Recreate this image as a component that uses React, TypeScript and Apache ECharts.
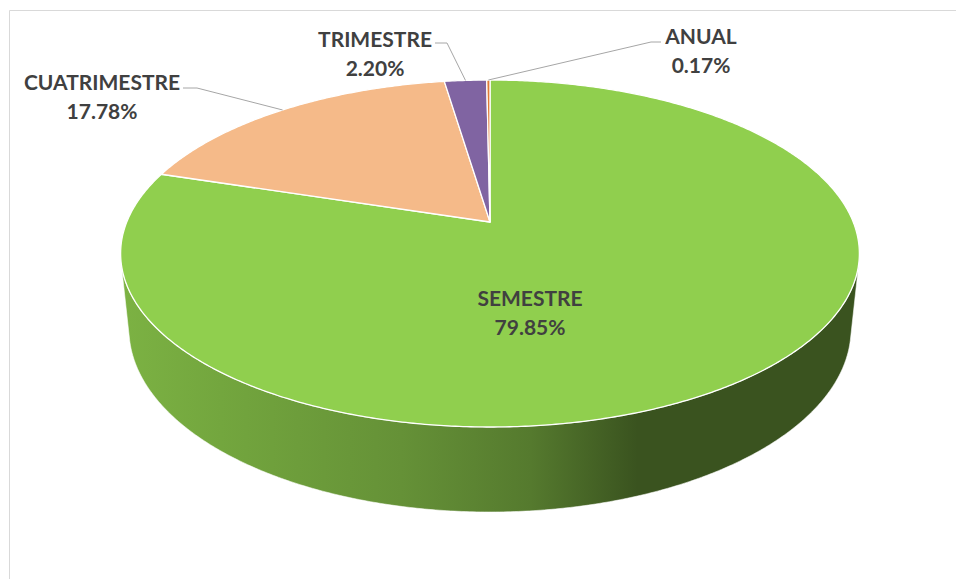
import React, { useEffect, useRef } from "react";
import * as echarts from "echarts";

// ---------- data ----------
const categories = ["SEMESTRE", "CUATRIMESTRE", "TRIMESTRE", "ANUAL"];
const percentages = [79.85, 17.78, 2.2, 0.17];
const sliceColors = ["#90CF4E", "#F5BA89", "#8064A2", "#E07B35"];

// ---------- layout (pixels) ----------
const labelLayout = [
  { x: 530, y: 297, inside: true, start: [0, 0], knee: [0, 0] },
  { x: 102, y: 81, inside: false, start: [183, 88], knee: [197, 88] },
  { x: 375, y: 38, inside: false, start: [435, 43], knee: [447, 43] },
  { x: 701, y: 35, inside: false, start: [661, 42], knee: [651, 42] },
];
const LINE_GAP = 29;
const FONT = "Lato, 'Open Sans', sans-serif";

// perspective camera for the 3D pie
const CX = 490;
const CY = 222;
const FOCAL = 1774;
const DIST = 4.884;
const SIN_T = 0.4619;
const COS_T = 0.887;
const DEPTH = 0.236;

function project(X: number, Y: number, Z: number): number[] {
  const d = DIST - Y * SIN_T - Z * COS_T;
  return [CX + (FOCAL * X) / d, CY - (FOCAL * (Y * COS_T - Z * SIN_T)) / d];
}
function rim(alphaDeg: number, Y: number): number[] {
  const a = (alphaDeg * Math.PI) / 180;
  return project(Math.sin(a), Y, -Math.cos(a));
}
// visible side range (clockwise degrees from 12 o'clock)
const CAM_Z = DIST * COS_T;
const PHI0 = (Math.asin(1 / CAM_Z) * 180) / Math.PI;
const VIS0 = 90 + PHI0;
const VIS1 = 270 - PHI0;

function shade(hex: string, f: number): string {
  const n = parseInt(hex.slice(1), 16);
  const r = Math.round(((n >> 16) & 255) * f);
  const g = Math.round(((n >> 8) & 255) * f);
  const b = Math.round((n & 255) * f);
  return `rgb(${r},${g},${b})`;
}
const sideStops = [
  [0, 0.86],
  [0.135, 0.8],
  [0.38, 0.7],
  [0.555, 0.59],
  [0.7, 0.4],
  [1, 0.4],
];

function sliceRange(api: any, idx: number) {
  let total = 0;
  for (let i = 0; i < percentages.length; i++) total += percentages[i];
  let before = 0;
  for (let i = 0; i < idx; i++) before += percentages[i];
  const v = api.value(1);
  return [(before / total) * 360, ((before + v) / total) * 360];
}

function arcPoints(a0: number, a1: number, Y: number): number[][] {
  const n = Math.max(2, Math.ceil((a1 - a0) / 0.5));
  const pts: number[][] = [];
  for (let k = 0; k <= n; k++) pts.push(rim(a0 + ((a1 - a0) * k) / n, Y));
  return pts;
}

const seriesData = percentages.map((v, i) => ({ name: categories[i], value: [i, v] }));

export default function App() {
  const ref = useRef<HTMLDivElement>(null);
  useEffect(() => {
    if (!ref.current) return;
    const chart = echarts.init(ref.current, undefined, { renderer: "svg" });
    const leftX = rim(VIS1, 0)[0];
    const rightX = rim(VIS0, 0)[0];
    chart.setOption({
      animation: false,
      backgroundColor: "#ffffff",
      graphic: [
        {
          type: "rect",
          silent: true,
          shape: { x: 9.5, y: 10.5, width: 1000, height: 1000 },
          style: { fill: "none", stroke: "#D9D9D9", lineWidth: 1 },
        },
      ],
      series: [
        {
          type: "custom",
          coordinateSystem: "none",
          silent: true,
          z: 1,
          data: seriesData,
          renderItem: (params: any, api: any) => {
            const i = params.dataIndex;
            const [s, e] = sliceRange(api, i);
            const a0 = Math.max(s, VIS0);
            const a1 = Math.min(e, VIS1);
            if (a1 <= a0) return { type: "group", children: [] };
            const top = arcPoints(a0, a1, 0);
            const bot = arcPoints(a0, a1, -DEPTH).reverse();
            const grad = new echarts.graphic.LinearGradient(
              leftX,
              0,
              rightX,
              0,
              sideStops.map(([o, f]) => ({ offset: o, color: shade(sliceColors[i], f) })),
              true
            );
            return {
              type: "polygon",
              shape: { points: top.concat(bot) },
              style: { fill: grad, stroke: "rgba(255,255,255,0.7)", lineWidth: 0.8 },
            };
          },
        },
        {
          type: "custom",
          coordinateSystem: "none",
          silent: true,
          z: 2,
          data: seriesData,
          renderItem: (params: any, api: any) => {
            const i = params.dataIndex;
            const [s, e] = sliceRange(api, i);
            const pts = [project(0, 0, 0)];
            const arc = arcPoints(s, e, 0);
            return {
              type: "polygon",
              shape: { points: pts.concat(arc) },
              style: { fill: sliceColors[i], stroke: "#ffffff", lineWidth: 1.3, lineJoin: "round" },
            };
          },
        },
        {
          type: "custom",
          coordinateSystem: "none",
          silent: true,
          z: 3,
          data: seriesData,
          renderItem: (params: any, api: any) => {
            const i = params.dataIndex;
            const [s, e] = sliceRange(api, i);
            const lay = labelLayout[i];
            const pct = Number(api.value(1)).toFixed(2) + "%";
            const children: any[] = [];
            if (!lay.inside) {
              const p = rim((s + e) / 2, 0);
              children.push({
                type: "polyline",
                shape: { points: [lay.start, lay.knee, p] },
                style: { stroke: "#A6A6A6", lineWidth: 1, fill: "none" },
              });
            }
            const txtStyle = {
              fill: "#404040",
              fontFamily: FONT,
              fontWeight: "bold",
              fontSize: 21,
              align: "center",
              verticalAlign: "middle",
            };
            children.push({
              type: "text",
              x: lay.x,
              y: lay.y,
              style: { ...txtStyle, text: categories[i] },
            });
            children.push({
              type: "text",
              x: lay.x,
              y: lay.y + LINE_GAP,
              style: { ...txtStyle, text: pct },
            });
            return { type: "group", children };
          },
        },
      ],
    });
    return () => chart.dispose();
  }, []);
  return (
    <div
      ref={ref}
      style={{ position: "fixed", left: 0, top: 0, width: 956, height: 579 }}
    />
  );
}
